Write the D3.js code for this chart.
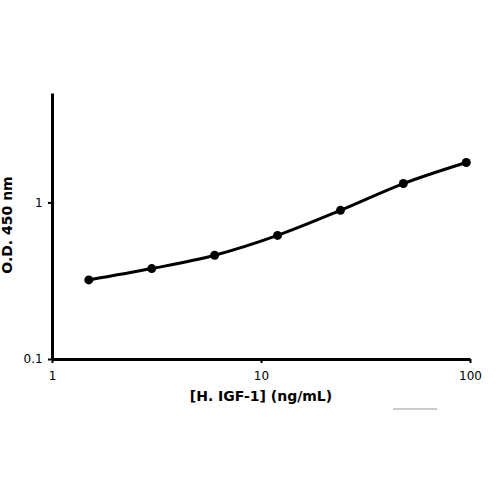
<!DOCTYPE html><html><head><script src="https://cdn.jsdelivr.net/npm/d3@7"></script>
<style>body{margin:0;background:#fff}</style></head><body><svg id="c" width="500" height="500"></svg>
<script>
const concentrations=[1.5,3,6,12,24,48,96];
const odValues=[0.32,0.378,0.46,0.616,0.89,1.32,1.8];
const xTicks=[1,10,100];
const yTicks=[0.1,1];
const svg=d3.select("#c");
const x=d3.scaleLog().domain([1,100]).range([52,470]);
const y=d3.scaleLog().domain([0.1,5]).range([359,93]);
const f="'DejaVu Sans',sans-serif";
const xMinor=[];for(let d=1;d<100;d*=10)for(let k=2;k<10;k++)xMinor.push(d*k);
const yMinor=[0.2,0.3,0.4,0.5,0.6,0.7,0.8,0.9,2,3,4];
const xa=svg.append("g").attr("transform","translate(0,359)");
xa.call(d3.axisBottom(x).tickValues(xMinor).tickSize(3).tickSizeOuter(0).tickFormat(""));
xa.call(d3.axisBottom(x).tickValues(xTicks).tickSize(4).tickSizeOuter(0).tickFormat(d3.format("d")));
xa.selectAll("path.domain").attr("stroke","#000").attr("stroke-width",3);
xa.selectAll("line").attr("stroke-width",2);
xa.selectAll("text").attr("font-family",f).attr("font-size",12).attr("dy","1.2em");
const ya=svg.append("g").attr("transform","translate(52,0)");
ya.call(d3.axisLeft(y).tickValues(yMinor).tickSize(3).tickSizeOuter(0).tickFormat(""));
ya.call(d3.axisLeft(y).tickValues(yTicks).tickSize(4).tickSizeOuter(0).tickFormat(d=>String(d)));
ya.selectAll("path.domain").attr("stroke","#000").attr("stroke-width",3);
ya.selectAll("line").attr("stroke-width",2);
ya.selectAll("text").attr("font-family",f).attr("font-size",12).attr("dx","-0.2em");
const line=d3.line().x((d,i)=>x(concentrations[i])).y(d=>y(d)).curve(d3.curveMonotoneX);
svg.append("path").attr("d",line(odValues)).attr("fill","none").attr("stroke","#000").attr("stroke-width",3);
svg.selectAll("circle.p").data(odValues).join("circle").attr("cx",(d,i)=>x(concentrations[i])).attr("cy",d=>y(d)).attr("r",4.5).attr("fill","#000");
svg.append("text").attr("x",261).attr("y",401).attr("text-anchor","middle").attr("font-family",f).attr("font-weight","bold").attr("font-size",14).text("[H. IGF-1] (ng/mL)");
svg.append("text").attr("transform","translate(12,225) rotate(-90)").attr("text-anchor","middle").attr("font-family",f).attr("font-weight","bold").attr("font-size",14).text("O.D. 450 nm");
svg.append("line").attr("x1",393).attr("x2",437).attr("y1",409).attr("y2",409).attr("stroke","#bbb").attr("stroke-width",1.5);
</script></body></html>
